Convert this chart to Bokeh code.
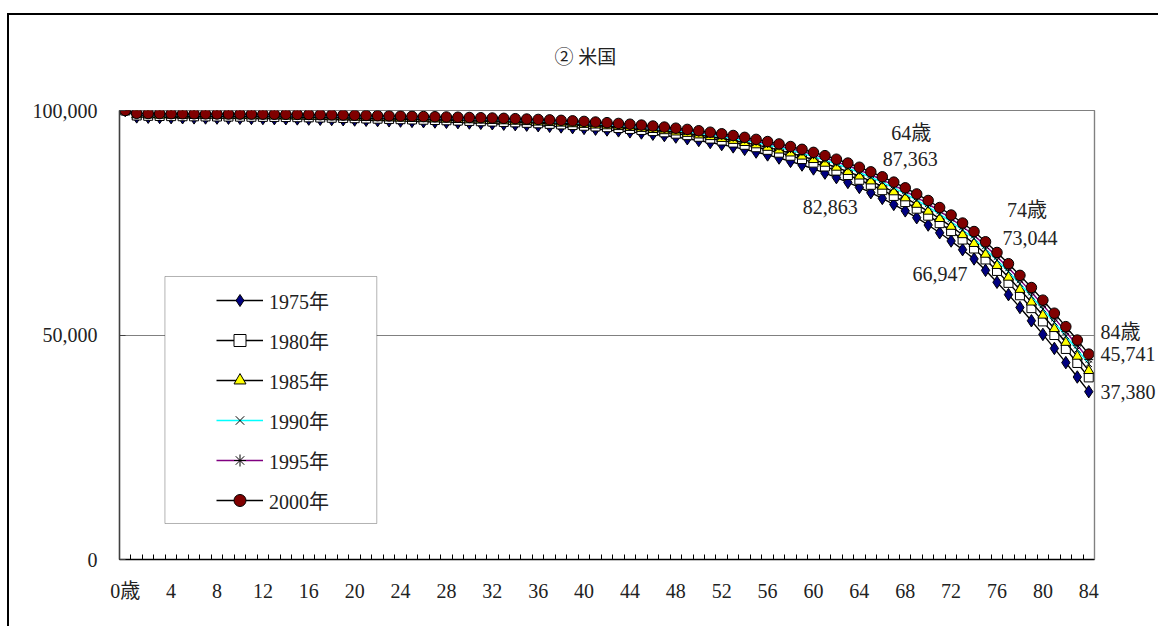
from bokeh.plotting import figure
from bokeh.models import (FixedTicker, NumeralTickFormatter, Legend, LegendItem,
                          BoxAnnotation, Label, Range1d, LinearAxis)
from bokeh.embed import file_html
from bokeh.resources import INLINE

# ---------------- data ----------------
ages = list(range(85))
tick_ages = list(range(0, 85, 4))
tick_overrides = {0: "0歳"}
y_ticks = [0, 50000, 100000]
title_text = "② 米国"
years = ["1975年", "1980年", "1985年", "1990年", "1995年", "2000年"]

s1975 = [100000, 98580, 98501, 98452, 98413, 98383, 98358, 98334, 98310, 98286,
         98262, 98238, 98214, 98189, 98161, 98128, 98089, 98043, 97992, 97938,
         97882, 97823, 97764, 97703, 97641, 97576, 97510, 97442, 97371, 97296,
         97218, 97135, 97048, 96954, 96852, 96741, 96620, 96488, 96343, 96184,
         96011, 95848, 95666, 95465, 95245, 94997, 94722, 94419, 94088, 93721,
         93318, 92879, 92405, 91897, 91346, 90752, 90108, 89414, 88663, 87856,
         86986, 86055, 85057, 83985, 82863, 81686, 80428, 79085, 77654, 76124,
         74495, 72767, 70941, 69004, 66947, 64403, 61750, 58990, 56129, 53171,
         50130, 47017, 43848, 40643, 37380]
s1980 = [100000, 98884, 98820, 98778, 98746, 98720, 98700, 98681, 98661, 98642,
         98622, 98603, 98583, 98563, 98539, 98510, 98474, 98432, 98385, 98335,
         98284, 98230, 98176, 98121, 98064, 98006, 97946, 97885, 97821, 97754,
         97685, 97611, 97533, 97448, 97356, 97257, 97148, 97030, 96900, 96758,
         96603, 96450, 96282, 96095, 95892, 95664, 95413, 95137, 94837, 94507,
         94144, 93748, 93321, 92862, 92362, 91822, 91238, 90606, 89923, 89184,
         88388, 87532, 86612, 85622, 84573, 83455, 82255, 80972, 79603, 78135,
         76571, 74905, 73138, 71257, 69264, 66821, 64269, 61610, 58847, 55984,
         53030, 49996, 46893, 43769, 40557]
s1985 = [100000, 99028, 98971, 98932, 98904, 98880, 98862, 98845, 98827, 98810,
         98793, 98776, 98758, 98739, 98718, 98691, 98657, 98616, 98572, 98524,
         98474, 98423, 98371, 98318, 98265, 98209, 98153, 98095, 98035, 97971,
         97906, 97836, 97762, 97682, 97595, 97501, 97398, 97287, 97164, 97030,
         96884, 96736, 96574, 96393, 96198, 95980, 95740, 95477, 95191, 94879,
         94535, 94160, 93755, 93319, 92843, 92330, 91773, 91171, 90519, 89814,
         89052, 88232, 87349, 86398, 85383, 84293, 83120, 81866, 80526, 79088,
         77555, 75917, 74178, 72325, 70361, 67966, 65463, 62851, 60135, 57316,
         54404, 51407, 48336, 45250, 42062]
s1990 = [100000, 99172, 99122, 99087, 99062, 99039, 99024, 99009, 98994, 98979,
         98964, 98948, 98933, 98916, 98897, 98872, 98839, 98801, 98758, 98712,
         98665, 98616, 98566, 98516, 98465, 98413, 98360, 98305, 98248, 98188,
         98127, 98061, 97992, 97916, 97834, 97745, 97649, 97543, 97428, 97302,
         97165, 97021, 96866, 96691, 96504, 96296, 96067, 95817, 95546, 95251,
         94927, 94572, 94188, 93776, 93325, 92837, 92309, 91736, 91116, 90443,
         89717, 88931, 88086, 87174, 86193, 85131, 83986, 82760, 81449, 80040,
         78538, 76930, 75219, 73392, 71459, 69111, 66656, 64092, 61422, 58648,
         55778, 52819, 49778, 46731, 43567]
s1995 = [100000, 99268, 99223, 99190, 99167, 99146, 99132, 99118, 99105, 99091,
         99077, 99064, 99050, 99034, 99016, 98992, 98961, 98924, 98882, 98838,
         98792, 98744, 98696, 98648, 98599, 98549, 98497, 98445, 98390, 98333,
         98274, 98212, 98145, 98072, 97993, 97908, 97815, 97714, 97604, 97483,
         97352, 97211, 97060, 96890, 96709, 96507, 96285, 96044, 95782, 95499,
         95188, 94847, 94478, 94081, 93646, 93175, 92666, 92113, 91514, 90863,
         90159, 89398, 88577, 87691, 86733, 85689, 84563, 83356, 82064, 80675,
         79194, 77605, 75913, 74104, 72190, 69874, 67452, 64919, 62281, 59537,
         56694, 53759, 50740, 47718, 44570]
s2000 = [100000, 99380, 99340, 99310, 99290, 99270, 99258, 99246, 99234, 99222,
         99210, 99198, 99186, 99172, 99155, 99133, 99103, 99067, 99027, 98984,
         98940, 98894, 98848, 98802, 98755, 98707, 98658, 98608, 98556, 98502,
         98446, 98387, 98323, 98254, 98179, 98098, 98010, 97914, 97809, 97695,
         97570, 97433, 97287, 97122, 96947, 96753, 96540, 96308, 96058, 95789,
         95492, 95167, 94815, 94436, 94020, 93569, 93082, 92552, 91978, 91352,
         90676, 89942, 89150, 88294, 87363, 86341, 85236, 84051, 82782, 81416,
         79959, 78392, 76722, 74934, 73044, 70765, 68380, 65884, 63282, 60573,
         57762, 54857, 51862, 48870, 45741]

labelled_ages = [64, 74, 84]

# ---------------- figure ----------------
FONT = "'Liberation Serif', 'Times New Roman', 'Noto Sans CJK JP'"
TXT = "#222222"

p = figure(width=1158, height=626,
           x_range=Range1d(-0.5, 84.5), y_range=Range1d(0, 100000),
           output_backend="svg", toolbar_location=None,
           min_border_left=119, min_border_right=63,
           min_border_top=110, min_border_bottom=67)
p.background_fill_color = "white"
p.border_fill_color = None
p.outline_line_color = "#808080"
p.outline_line_width = 1.2
# outer chart-area border (left and top edges; the rest lies outside the window)
p.styles = {"box-shadow": "inset 7px 0 0 0 white, inset 0 13px 0 0 white, "
                          "inset 9px 15px 0 0 black",
            "background-color": "white"}

p.title.text = title_text
p.title.align = "left"
p.title.offset = 435
p.title.text_font = FONT
p.title.text_font_size = "19px"
p.title.text_font_style = "normal"
p.title.text_color = TXT
p.title.standoff = 85

# grid
p.xgrid.visible = False
p.ygrid.ticker = FixedTicker(ticks=[50000])
p.ygrid.grid_line_color = "#808080"
p.ygrid.grid_line_width = 1.2

# x axis
p.xaxis.ticker = FixedTicker(ticks=tick_ages,
                             minor_ticks=[a - 0.5 for a in range(86)])
p.xaxis.major_label_overrides = tick_overrides
p.xaxis.major_tick_in = 0
p.xaxis.major_tick_out = 0
p.xaxis.minor_tick_in = 5
p.xaxis.minor_tick_out = 0
p.xaxis.minor_tick_line_color = "black"
p.xaxis.axis_line_color = "black"
p.xaxis.axis_line_width = 1.5
p.xaxis.major_label_standoff = 20
p.xaxis.major_label_text_font = FONT
p.xaxis.major_label_text_font_size = "20px"
p.xaxis.major_label_text_color = TXT

# y axis
p.yaxis.ticker = FixedTicker(ticks=y_ticks)
p.yaxis.formatter = NumeralTickFormatter(format="0,0")
p.yaxis.major_tick_in = 6
p.yaxis.major_tick_out = 0
p.yaxis.minor_tick_line_color = None
p.yaxis.axis_line_color = "#404040"
p.yaxis.axis_line_width = 1.5
p.yaxis.major_tick_line_color = "#404040"
p.yaxis.major_label_standoff = 22
p.yaxis.major_label_text_font = FONT
p.yaxis.major_label_text_font_size = "20px"
p.yaxis.major_label_text_color = TXT

# ---------------- series ----------------
styles = [
    (s1975, "black",   dict(marker="diamond", size=12.5, fill_color="#000080")),
    (s1980, "black",   dict(marker="square", size=9, fill_color="white")),
    (s1985, "black",   dict(marker="triangle", size=10, fill_color="#FFFF00")),
    (s1990, "#00FFFF", dict(marker="x", size=9, fill_color=None)),
    (s1995, "#800080", dict(marker="asterisk", size=9, fill_color=None)),
    (s2000, "black",   dict(marker="circle", size=10.5, fill_color="#800000")),
]
items = []
for (vals, lc, mk), lab in zip(styles, years):
    rl = p.line(ages, vals, line_color=lc, line_width=1.4)
    rm = p.scatter(ages, vals, line_color="black", line_width=1, **mk)
    items.append(LegendItem(label=lab, renderers=[rl, rm]))

# legend frame (white, bordered)
legend_box = BoxAnnotation(left=3.46, right=21.93, bottom=8018, top=63029,
                           fill_color="white", fill_alpha=1,
                           line_color="black", line_width=1, level="annotation")
p.add_layout(legend_box)

legend = Legend(items=items, location=(89, 36), padding=8, spacing=10,
                glyph_width=47, glyph_height=30, label_height=30,
                label_standoff=6, margin=0,
                label_text_font=FONT, label_text_font_size="20px",
                label_text_color=TXT,
                border_line_alpha=0, background_fill_alpha=0)
p.add_layout(legend)

# ---------------- data labels ----------------
def add_label(age, val, text, dx, dy):
    p.add_layout(Label(x=age, y=val, text=text, x_offset=dx, y_offset=dy,
                       text_align="center", text_baseline="middle",
                       text_font=FONT, text_font_size="20px",
                       text_color=TXT))

a1, a2, a3 = labelled_ages
add_label(a1, s2000[a1], f"{a1}歳", 52, 34)
add_label(a1, s2000[a1], f"{s2000[a1]:,}", 51, 8)
add_label(a1, s1975[a1], f"{s1975[a1]:,}", -29, -20)
add_label(a2, s2000[a2], f"{a2}歳", 53, 22)
add_label(a2, s2000[a2], f"{s2000[a2]:,}", 56, -6)
add_label(a2, s1975[a2], f"{s1975[a2]:,}", -34, -15)

# labels for the last age sit outside the plot area: carry them on a right axis
age_tag_pos = s2000[a3] + 4900
right_axis = LinearAxis(
    ticker=FixedTicker(ticks=[age_tag_pos, s2000[a3], s1975[a3]]),
    major_label_overrides={age_tag_pos: f"{a3}歳",
                           s2000[a3]: f"{s2000[a3]:,}",
                           s1975[a3]: f"{s1975[a3]:,}"},
    major_tick_in=0, major_tick_out=0, minor_tick_line_color=None,
    axis_line_color="#808080", axis_line_width=1.2,
    major_label_standoff=6, major_label_text_font=FONT,
    major_label_text_font_size="20px", major_label_text_color=TXT)
p.add_layout(right_axis, "right")

open("out.html", "w").write(file_html(p, INLINE))
